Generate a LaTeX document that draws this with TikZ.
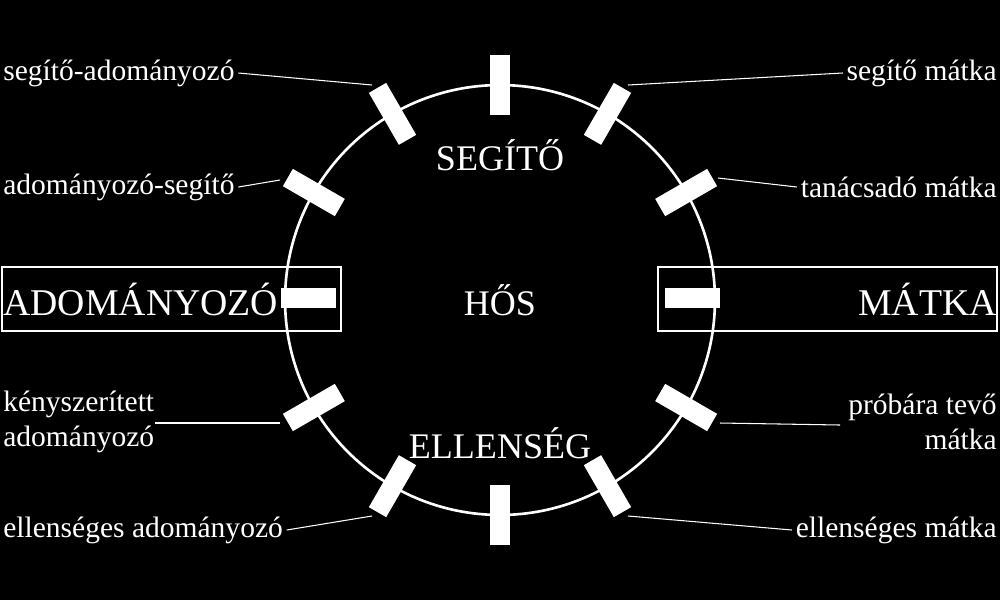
\documentclass[tikz,border=0pt]{standalone}
\usepackage{fontspec}
\setmainfont{Liberation Serif}
\usetikzlibrary{calc}
\begin{document}
\begin{tikzpicture}[x=0.02cm,y=-0.02cm,
  lbl/.style={text=white,font=\fontsize{16.8}{20}\selectfont,inner sep=0pt},
  big/.style={text=white,font=\fontsize{20.5}{24}\selectfont,inner sep=0pt},
  tick/.style={fill=white,draw=none,minimum width=1.2cm,minimum height=0.4cm,inner sep=0pt},
  conn/.style={white,line width=0.6pt},
  frame/.style={draw=white,line width=0.8pt}]
\fill[black] (0,0) rectangle (1000,600);
\useasboundingbox (0,0) rectangle (1000,600);
\draw[white,line width=1.5pt] (500,300) circle[radius=4.3cm];
\foreach \a in {30,60,90,120,150,210,240,270,300,330}{
  \node[tick,rotate=\a] (t\a) at ($(500,300)+(\a:4.3cm)$) {};
}
\node[tick,minimum width=1.1cm] (t180) at (308,298) {};
\node[tick,minimum width=1.1cm] (t0) at (692,298) {};
\draw[frame] (2,267) rectangle (341,331);
\draw[frame] (658,267) rectangle (997,331);
\node[lbl,anchor=west] (l1) at (3,73) {segítő-adományozó};
\node[lbl,anchor=west] (l2) at (3,187) {adományozó-segítő};
\node[lbl,anchor=west,align=left] (l3) at (3,422) {kényszerített\\adományozó};
\node[lbl,anchor=west] (l4) at (3,530) {ellenséges adományozó};
\node[lbl,anchor=east] (r1) at (997,73) {segítő mátka};
\node[lbl,anchor=east] (r2) at (997,187) {tanácsadó mátka};
\node[lbl,anchor=east,align=right] (r3) at (997,422) {próbára tevő\\mátka};
\node[lbl,anchor=east] (r4) at (997,530) {ellenséges mátka};
\node[big,anchor=west] (adom) at (3,299) {\fontsize{21.5}{24}\selectfont ADOMÁNYOZÓ};
\node[big,anchor=east] (matka) at (997,299) {\fontsize{21.5}{24}\selectfont MÁTKA};
\node[big] (seg) at (500,155) {SEGÍTŐ};
\node[big] (hos) at (500,300) {HŐS};
\node[big] (ell) at (500,443) {ELLENSÉG};
\coordinate (c1) at (372,85);
\coordinate (c2) at (280,180);
\coordinate (c3) at (280,423);
\coordinate (c4) at (372,516);
\coordinate (d1) at (628,85);
\coordinate (d2) at (718,178);
\coordinate (d3) at (720,423);
\coordinate (d4) at (628,516);
\draw[conn] ([xshift=2pt]l1.east) -- (c1);
\draw[conn] ([xshift=2pt]l2.east) -- (c2);
\draw[conn] (155,423) -- (c3);
\draw[conn] ([xshift=2pt]l4.east) -- (c4);
\draw[conn] ([xshift=-2pt]r1.west) -- (d1);
\draw[conn] ([xshift=-2pt]r2.west) -- (d2);
\draw[conn] (840,425) -- (d3);
\draw[conn] ([xshift=-2pt]r4.west) -- (d4);
\end{tikzpicture}
\end{document}
